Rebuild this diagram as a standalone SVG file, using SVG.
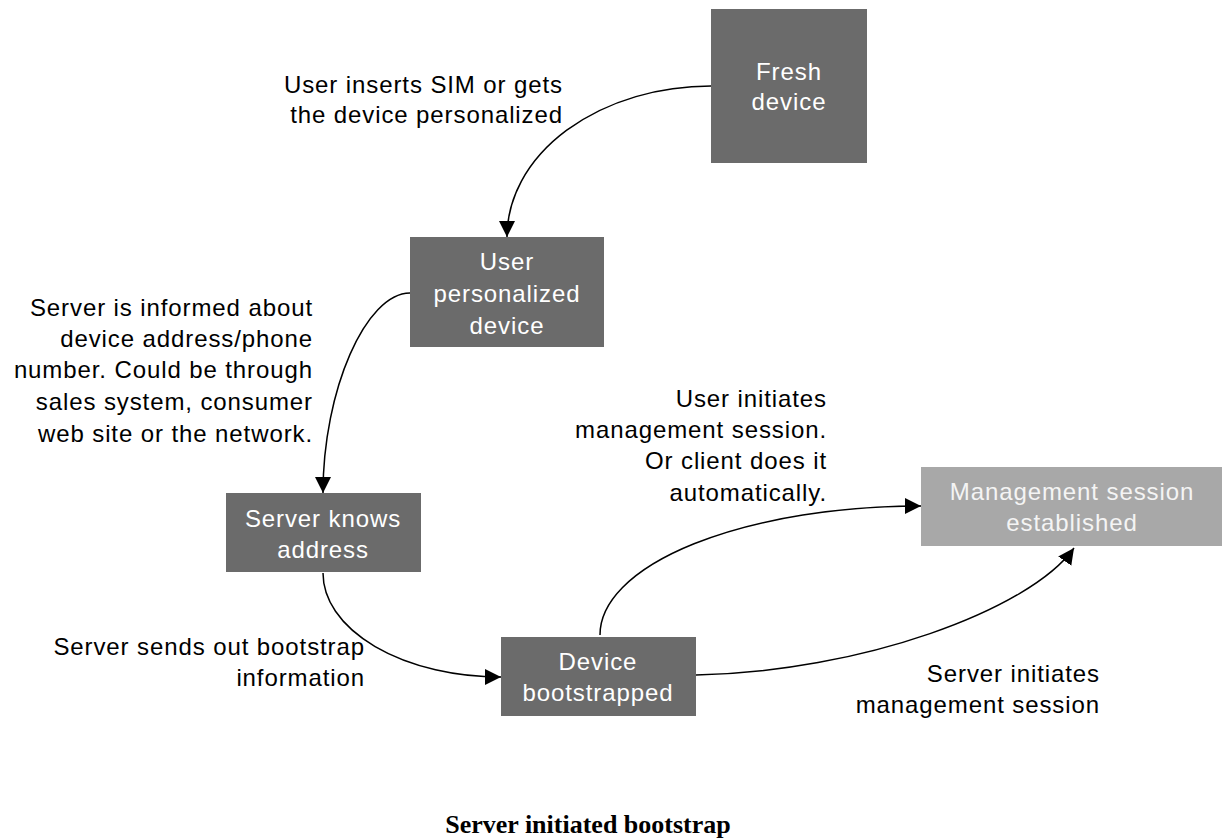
<svg xmlns="http://www.w3.org/2000/svg" width="1222" height="839" viewBox="0 0 1222 839">
<style>
.box{fill:#6b6b6b}
.box2{fill:#a8a8a8}
.bt{font-family:"Liberation Sans",Arial,sans-serif;font-size:24px;letter-spacing:0.9px;fill:#ffffff;text-anchor:middle}
.bt2{font-family:"Liberation Sans",Arial,sans-serif;font-size:24px;letter-spacing:0.9px;fill:#f4f4f4;text-anchor:middle}
.lbl{font-family:"Liberation Sans",Arial,sans-serif;font-size:24px;letter-spacing:0.9px;fill:#000;text-anchor:end}
.c{fill:none;stroke:#000;stroke-width:1.5}
.title{font-family:"Liberation Serif","Times New Roman",serif;font-size:26px;font-weight:bold;fill:#000;text-anchor:middle}
</style>
<defs>
<marker id="ah" markerUnits="userSpaceOnUse" markerWidth="18" markerHeight="18" refX="16" refY="8" orient="auto">
<path d="M0,0 L16,8 L0,16 z" fill="#000"/>
</marker>
</defs>
<rect width="1222" height="839" fill="#fff"/>
<g id="connectors">
<path class="c" d="M711,86 A204,151 0 0 0 507,237" marker-end="url(#ah)"/>
<path class="c" d="M410,293 C366,293 323,390 323,493" marker-end="url(#ah)"/>
<path class="c" d="M323,573 A178,104 0 0 0 501,677" marker-end="url(#ah)"/>
<path class="c" d="M600,635 A321,129 0 0 1 921,506" marker-end="url(#ah)"/>
<path class="c" d="M696,675 C860,672 1030,610 1074,548" marker-end="url(#ah)"/>
</g>
<g id="fresh">
<rect class="box" x="711" y="9" width="156" height="154"/>
<text class="bt" x="789" y="80">Fresh</text>
<text class="bt" x="789" y="110">device</text>
</g>
<g id="userpers">
<rect class="box" x="410" y="237" width="194" height="110"/>
<text class="bt" x="507" y="270">User</text>
<text class="bt" x="507" y="302">personalized</text>
<text class="bt" x="507" y="334">device</text>
</g>
<g id="serverknows">
<rect class="box" x="226" y="493" width="195" height="79"/>
<text class="bt" x="323" y="527">Server knows</text>
<text class="bt" x="323" y="558">address</text>
</g>
<g id="bootstrapped">
<rect class="box" x="501" y="637" width="195" height="79"/>
<text class="bt" x="598" y="670">Device</text>
<text class="bt" x="598" y="701">bootstrapped</text>
</g>
<g id="mgmt">
<rect class="box2" x="921" y="467" width="301" height="79"/>
<text class="bt2" x="1072" y="500">Management session</text>
<text class="bt2" x="1072" y="531">established</text>
</g>
<g id="labels">
<text class="lbl" x="563" y="93">User inserts SIM or gets</text>
<text class="lbl" x="563" y="123">the device personalized</text>
<text class="lbl" x="313" y="316">Server is informed about</text>
<text class="lbl" x="313" y="347">device address/phone</text>
<text class="lbl" x="313" y="378">number. Could be through</text>
<text class="lbl" x="313" y="410">sales system, consumer</text>
<text class="lbl" x="313" y="442">web site or the network.</text>
<text class="lbl" x="365" y="655">Server sends out bootstrap</text>
<text class="lbl" x="365" y="686">information</text>
<text class="lbl" x="827" y="407">User initiates</text>
<text class="lbl" x="827" y="438">management session.</text>
<text class="lbl" x="827" y="469">Or client does it</text>
<text class="lbl" x="827" y="501">automatically.</text>
<text class="lbl" x="1100" y="682">Server initiates</text>
<text class="lbl" x="1100" y="713">management session</text>
</g>
<text class="title" x="588" y="833">Server initiated bootstrap</text>
</svg>
